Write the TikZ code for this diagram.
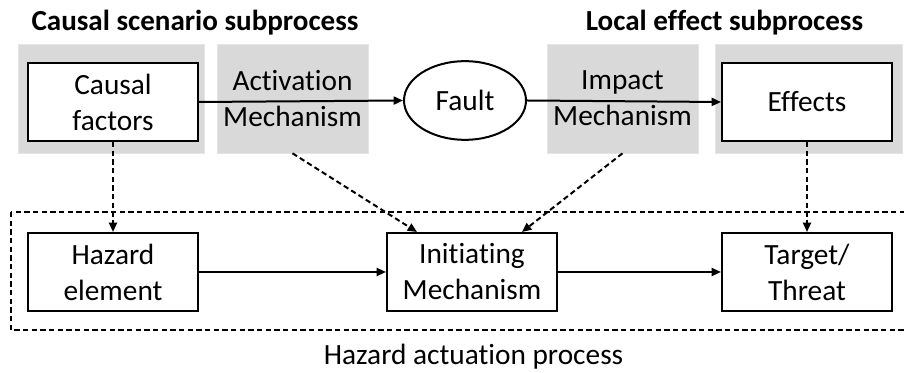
\documentclass[tikz,border=0pt]{standalone}
\usepackage{fontspec}
\setmainfont[Ligatures=NoCommon]{Carlito}
\usetikzlibrary{arrows.meta,calc,shapes.geometric}
\tikzset{
  px/.style={x=0.75pt,y=-0.75pt},
  lbl/.style={font=\fontsize{22pt}{27pt}\selectfont,align=center},
  graybox/.style={lbl,fill=black!15,draw=black!10,line width=0.5pt,inner sep=0pt,
    minimum width=#1,minimum height=81.75pt},
  whitebox/.style={lbl,fill=white,draw=black,line width=1.5pt,inner sep=0pt,
    minimum width=127.5pt,minimum height=58.5pt},
  flow/.style={line width=1.5pt,-{Triangle[length=7pt,width=6pt]}},
  dflow/.style={flow,dash pattern=on 4pt off 2.5pt},
  title/.style={font=\fontsize{21.8pt}{24pt}\selectfont\bfseries},
}
\begin{document}
\begin{tikzpicture}[px]
  \useasboundingbox (0,0) rectangle (904,373);
  \clip (0,0) rectangle (904,373);

  % section headings
  \node[title] (t1) at (195,23) {Causal scenario subprocess};
  \node[title] (t2) at (724.5,23) {Local effect subprocess};

  % upper row: shaded mechanism panels
  \node[graybox=139.5pt] (g1) at (111,98.5) {};
  \node[graybox=113.25pt] (act) at (292.5,98.5) {Activation\\Mechanism};
  \node[graybox=113.25pt] (imp) at (622.5,98.5) {Impact\\Mechanism};
  \node[graybox=140.25pt] (g4) at (808.5,98.5) {};

  \node[whitebox] (cf) at (113,102) {Causal\\factors};
  \node[whitebox] (eff) at (807,102) {Effects};
  \node[lbl,ellipse,draw=black,fill=white,line width=1.5pt,inner sep=0pt,
        minimum width=91.5pt,minimum height=59pt] (fault) at (465,100.5) {Fault};

  % hazard actuation frame
  \draw[line width=1.5pt,dash pattern=on 4pt off 2.5pt] (11,212) rectangle (912,330);
  \node[lbl] (hap) at (473.5,357) {Hazard actuation process};

  % lower row
  \node[whitebox] (haz) at (113,272) {Hazard\\element};
  \node[whitebox] (init) at (472,272) {Initiating\\Mechanism};
  \node[whitebox] (tgt) at (807,272) {Target/\\Threat};

  % solid flows
  \draw[flow] (cf.east) -- (fault.west);
  \draw[flow] (fault.east) -- (eff.west);
  \draw[flow] (haz.east) -- (init.west);
  \draw[flow] (init.east) -- (tgt.west);

  % dashed influences
  \draw[dflow] (cf.south) -- (haz.north);
  \draw[dflow] (act.south) -- ($(init.north west)+(31,0)$);
  \draw[dflow] (imp.south) -- ($(init.north west)+(136,0)$);
  \draw[dflow] (eff.south) -- (tgt.north);
\end{tikzpicture}
\end{document}
